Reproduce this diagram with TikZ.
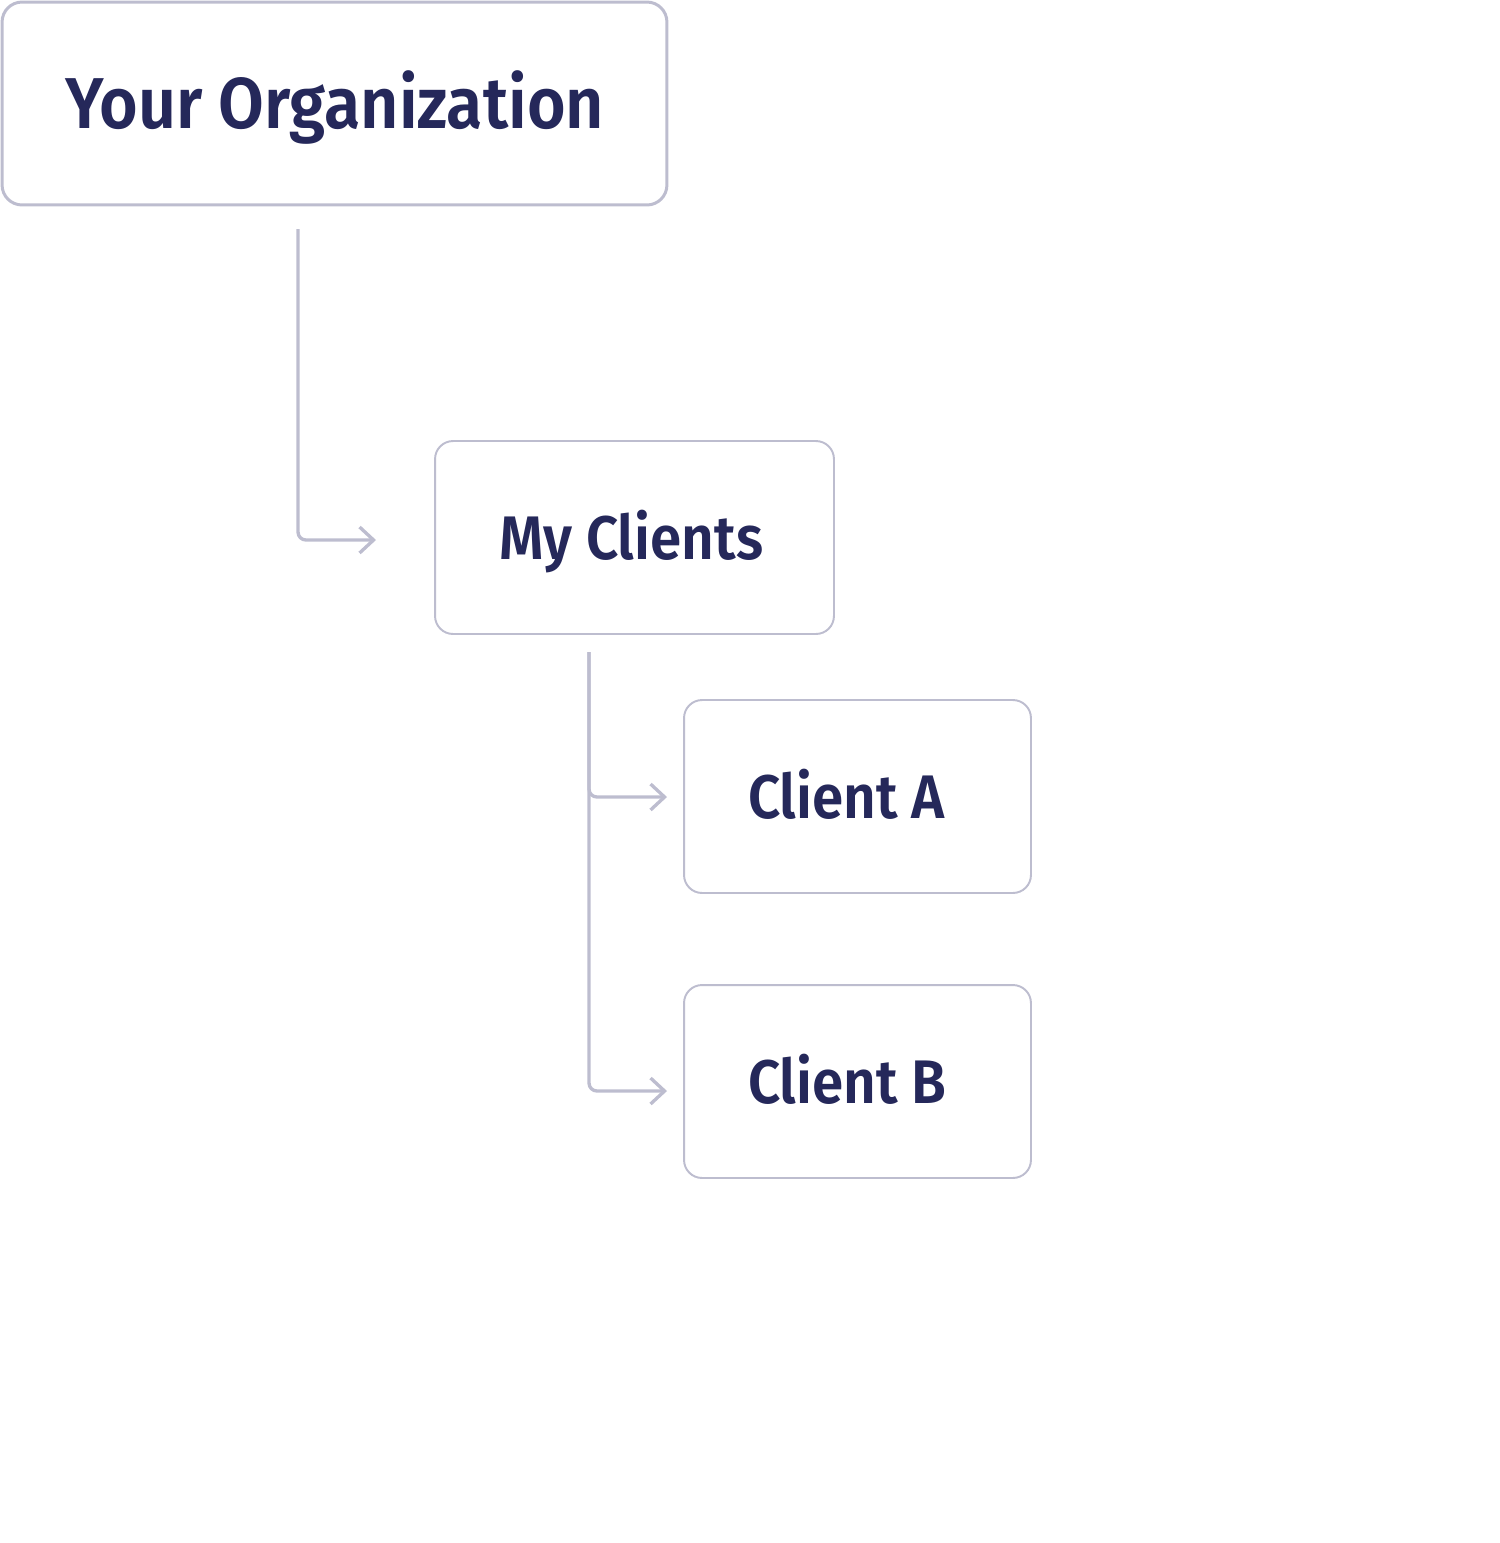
\documentclass[tikz,border=0pt]{standalone}
\usepackage{fontspec}
\setmainfont{Fira Sans}[UprightFont={* SemiBold}, FakeStretch=0.92]
\usetikzlibrary{arrows.meta}
\definecolor{navy}{HTML}{25285A}
\definecolor{edge}{HTML}{BDBDCF}
\tikzset{
  box/.style={draw=edge, line width=1.1pt, rounded corners=0.36cm, fill=white,
    text=navy, inner xsep=1.28cm, inner ysep=0pt,
    text height=0.86cm, text depth=0pt, font=\fontsize{35}{35}\selectfont},
  conn/.style={draw=edge, line width=1.9pt, rounded corners=0.16cm,
    -{Straight Barb[length=0.28cm, width=0.52cm, line width=1.9pt]}},
}
\begin{document}
\begin{tikzpicture}[x=0.02cm, y=-0.02cm]
\useasboundingbox (0,0) rectangle (1500,1543);
\node[box, line width=1.7pt, rounded corners=0.4cm, minimum height=4.06cm, text height=1cm, inner xsep=1.26cm,
  font=\fontsize{41}{41}\selectfont] (org) at (334.5,103.5) {\makebox[10.78cm][l]{Your Organization}};
\node[box, minimum height=3.86cm] (mc) at (634.5,537.5) {\makebox[5.42cm][l]{My Clients}};
\node[box, minimum height=3.86cm] (ca) at (857.5,796.5) {\makebox[4.38cm][l]{Client A}};
\node[box, minimum height=3.86cm] (cb) at (857.5,1081.5) {\makebox[4.38cm][l]{Client B}};
\coordinate (s1) at (298,229);
\coordinate (e1) at (376,540);
\coordinate (s2) at (589,652);
\coordinate (ea) at (667,797);
\coordinate (eb) at (667,1091);
\draw[conn] (s1) |- (e1);
\draw[conn] (s2) |- (ea);
\draw[conn] (s2) |- (eb);
\end{tikzpicture}
\end{document}
